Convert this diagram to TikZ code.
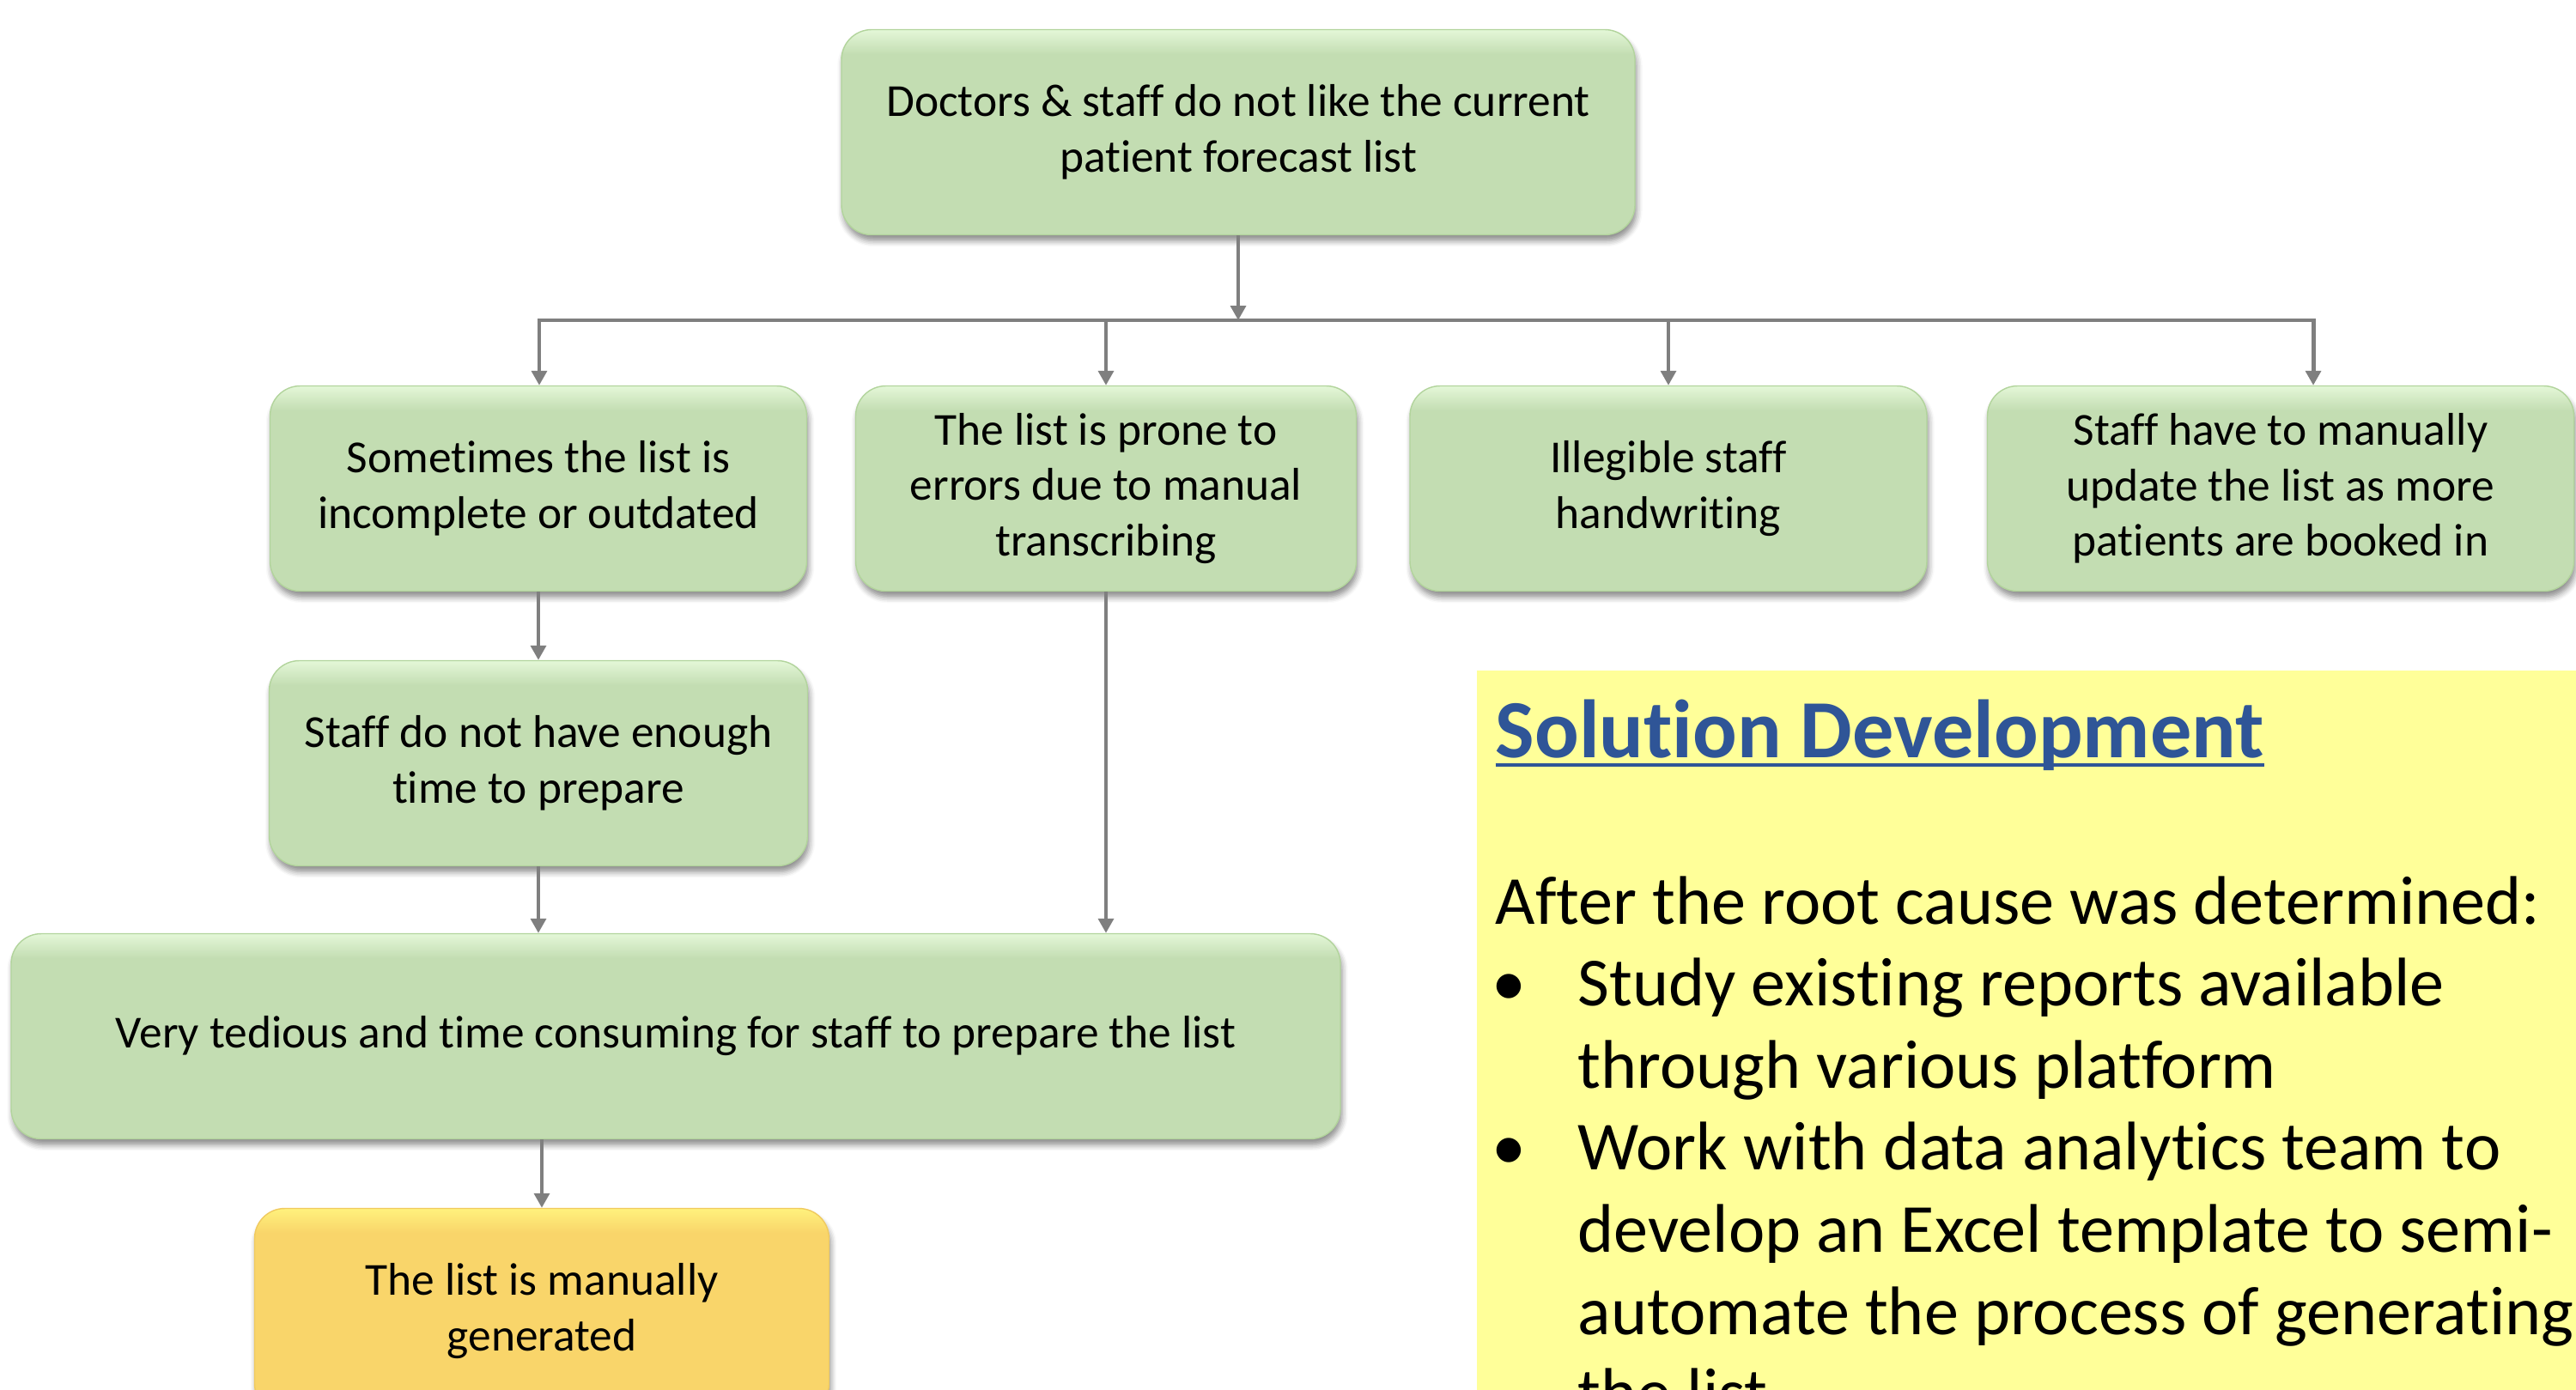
\documentclass[tikz,border=0pt]{standalone}
\usepackage{fontspec}
\setmainfont{Carlito}[Ligatures=NoCommon]
\usetikzlibrary{shapes,arrows.meta,positioning,shadows,shadows.blur}

\definecolor{boxgreen}{RGB}{195,221,178}
\definecolor{boxtop}{RGB}{228,247,216}
\definecolor{boxedge}{RGB}{178,212,156}
\definecolor{boxgold}{RGB}{249,213,106}
\definecolor{goldtop}{RGB}{255,242,125}
\definecolor{goldedge}{RGB}{240,202,95}
\definecolor{linkgray}{RGB}{127,127,127}
\definecolor{notepad}{RGB}{255,255,153}
\definecolor{solblue}{RGB}{47,85,151}

\pgfdeclareverticalshading{greenfill}{100bp}{color(0bp)=(boxgreen); color(69bp)=(boxgreen); color(75bp)=(boxtop); color(100bp)=(boxtop)}
\pgfdeclareverticalshading{goldfill}{100bp}{color(0bp)=(boxgold); color(69bp)=(boxgold); color(75bp)=(goldtop); color(100bp)=(goldtop)}

\newcommand{\solline}[1]{\setbox0\hbox{#1}\rlap{\rule[-3.2pt]{\wd0}{1.2pt}}\box0}

\tikzset{
  cause/.style={rectangle, rounded corners=0.35cm, draw=boxedge, line width=0.4pt,
    shade, shading=greenfill, minimum height=2.39cm, align=center, inner sep=0pt,
    font=\fontsize{15.2}{18.4}\selectfont,
    blur shadow={shadow xshift=0.02cm, shadow yshift=-0.07cm, shadow blur steps=5, shadow opacity=45}},
  rootcause/.style={cause, draw=goldedge, shading=goldfill},
  link/.style={draw=linkgray, line width=1.4pt, -{Triangle[length=4.8pt,width=5pt]}},
}

\begin{document}
\begin{tikzpicture}[node distance=3cm,on grid]
  \useasboundingbox (0,0) rectangle (30,-16.18);

  \node[cause, minimum width=9.24cm] (complaint) at (14.42,-1.54) {
    Doctors \& staff do not like the current\\patient forecast list};
  \node[cause, minimum width=6.25cm] (incomplete) [below left=4.15cm and 8.15cm of complaint] {
    Sometimes the list is\\incomplete or outdated};
  \node[cause, minimum width=5.83cm] (errors) [right=6.61cm of incomplete] {
    The list is prone to\\errors due to manual\\transcribing};
  \node[cause, minimum width=6.02cm] (handwriting) [right=6.55cm of errors] {
    Illegible staff\\handwriting};
  \node[cause, minimum width=6.83cm] (update) [right=7.13cm of handwriting] {
    Staff have to manually\\update the list as more\\patients are booked in};
  \node[cause, minimum width=6.27cm] (notime) [below=3.2cm of incomplete] {
    Staff do not have enough\\time to prepare};
  \node[cause, minimum width=15.48cm] (tedious) [below right=3.18cm and 1.60cm of notime] {
    Very tedious and time consuming for staff to prepare the list};
  \node[rootcause, minimum width=6.69cm] (manual) [below left=3.2cm and 1.56cm of tedious] {
    The list is manually\\generated};

  % branching line under the top box
  \coordinate (busl) at (6.28,-3.73);
  \coordinate[right=20.66cm of busl] (busr);

  \draw[link] (complaint) -- (complaint |- busl);
  \draw[link] (errors |- busl) -| (busl |- incomplete.north);
  \draw[link] (errors |- busl) -- (handwriting |- busl) -| (busr |- update.north);
  \draw[link] (errors |- busl) -- (errors);
  \draw[link] (handwriting |- busl) -- (handwriting);

  \draw[link] (incomplete) -- (notime);
  \draw[link] (notime) -- (notime |- tedious.north);
  \draw[link] (errors) -- (errors |- tedious.north);
  \draw[link] (manual |- tedious.south) -- (manual);

  % solution panel
  \fill[notepad] (17.2,-7.81) rectangle (30.2,-16.4);
  \node[anchor=base west, inner sep=0pt, text=solblue,
        font=\fontsize{27.4}{33}\selectfont\bfseries] (soltitle) at (17.41,-8.82)
    {\solline{Solution Development}};
  \node[anchor=base west, inner sep=0pt, font=\fontsize{22.8}{27.2}\selectfont] (solbody) at (17.41,-10.76) {
    \begin{tabular}[t]{@{}p{0.96cm}@{}l@{}}
      \multicolumn{2}{@{}l@{}}{After the root cause was determined:}\\
      \hspace*{-0.04cm}\textbullet & Study existing reports available\\
       & through various platform\\
      \hspace*{-0.04cm}\textbullet & Work with data analytics team to\\
       & develop an Excel template to semi-\\
       & automate the process of generating\\
       & the list
    \end{tabular}};
\end{tikzpicture}
\end{document}
